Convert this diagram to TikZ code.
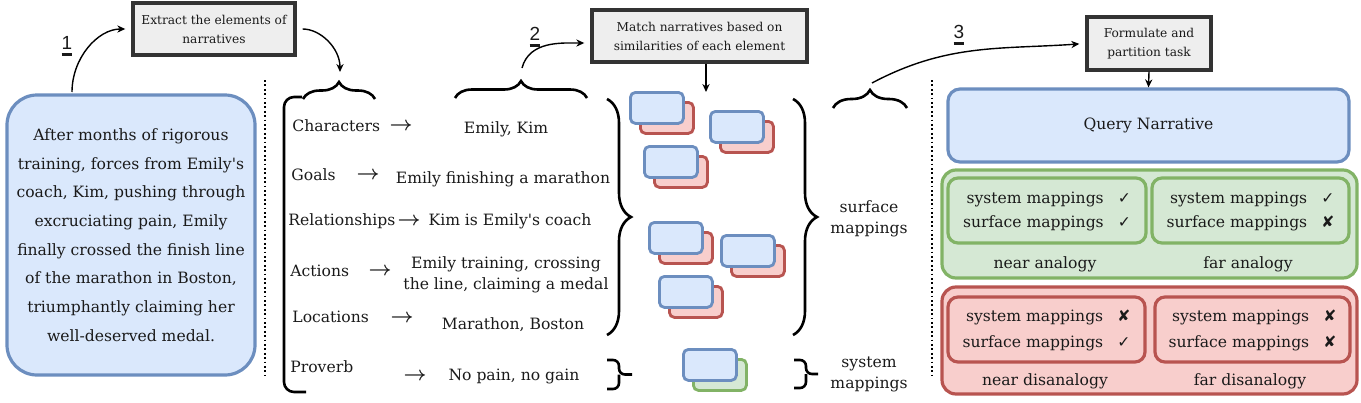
\documentclass[tikz,border=0pt]{standalone}
\usepackage{fontspec}
\setmainfont{DejaVu Serif}[Ligatures=TeXOff]
\setsansfont{Liberation Sans}
\newfontfamily\markfont{DejaVu Sans}
\usetikzlibrary{arrows.meta,decorations.pathreplacing}
\definecolor{ink}{HTML}{1A1A1A}
\definecolor{nblue}{HTML}{DAE8FC}
\definecolor{dblue}{HTML}{6C8EBF}
\definecolor{nred}{HTML}{F8CECC}
\definecolor{dred}{HTML}{B85450}
\definecolor{ngreen}{HTML}{D5E8D4}
\definecolor{dgreen}{HTML}{82B366}
\definecolor{boxgray}{HTML}{EEEEEE}
\definecolor{boxline}{HTML}{333333}
\newcommand\stepnum[1]{\setbox0\hbox{#1}\vtop{\copy0\kern2pt\hrule height1.4pt width\wd0}}
\newcommand\okmark{{\markfont ✓}}
\newcommand\nomark{{\markfont ✘}}
\tikzset{
  task/.style={draw=boxline,line width=1.7pt,fill=boxgray,align=center,inner sep=0pt,font=\fontsize{6.1}{9.5}\selectfont},
  story/.style={draw=dblue,fill=nblue,line width=1.6pt,rounded corners=15pt,align=center,inner sep=0pt,font=\fontsize{7.8}{14.35}\selectfont},
  card/.style={line width=1.4pt,rounded corners=2.5pt,minimum width=26.5pt,minimum height=15.5pt,anchor=north west,inner sep=0pt},
  bcard/.style={card,draw=dblue,fill=nblue},
  rcard/.style={card,draw=dred,fill=nred},
  gcard/.style={card,draw=dgreen,fill=ngreen},
  grp/.style={line width=1.6pt,rounded corners=7pt,inner sep=0pt},
  sub/.style={grp,rounded corners=5pt},
  elem/.style={anchor=west,inner sep=0pt},
  to/.style={font=\fontsize{10}{10}\selectfont\boldmath,inner sep=0pt},
  twoline/.style={align=center,font=\fontsize{7.8}{10.5}\selectfont},
  brc/.style={line width=1.3pt,decorate,decoration={brace,amplitude=#1}},
  brk/.style={line width=1.3pt,rounded corners=#1},
  sep/.style={line width=0.9pt,dash pattern=on 0.9pt off 1.3pt},
  ar/.style={-{Stealth[length=4pt,width=3.6pt]},line width=0.7pt},
  num/.style={font=\sffamily\fontsize{9.5}{9.5}\selectfont},
}
\begin{document}
\begin{tikzpicture}[x=0.5pt,y=-0.5pt,font=\fontsize{7.8}{10}\selectfont,text=ink]
  \useasboundingbox (0,0) rectangle (1361,402);

  % step 1: the narrative
  \node[story,minimum width=124pt,minimum height=140pt] (story) at (131,235)
    {After months of rigorous\\training, forces from Emily's\\coach, Kim, pushing through\\excruciating pain, Emily\\finally crossed the finish line\\of the marathon in Boston,\\triumphantly claiming her\\well-deserved medal.};
  \node[task,minimum width=81pt,minimum height=26pt] (extract) at (214,29) {Extract the elements of\\narratives};
  \node[num] (n1) at (67,46) {\stepnum{1}};
  \coordinate (up1) at (72,92);
  \draw[ar,shorten >=3pt] (up1) to[out=90,in=180] (extract.west);
  \draw[sep] (265,80) -- (265,375);

  % the elements
  \node[elem] (kChar) at (292,126) {Characters};
  \node[elem] (kGoal) at (291,175) {Goals};
  \node[elem] (kRel)  at (288,221) {Relationships};
  \node[elem] (kAct)  at (290,271) {Actions};
  \node[elem] (kLoc)  at (292,317) {Locations};
  \node[elem] (kProv) at (290,367) {Proverb};
  \node[to] (aChar) at (401,127) {$\rightarrow$};
  \node[to] (aGoal) at (368,176) {$\rightarrow$};
  \node[to] (aRel)  at (409,222) {$\rightarrow$};
  \node[to] (aAct)  at (380,272) {$\rightarrow$};
  \node[to] (aLoc)  at (402,319) {$\rightarrow$};
  \node[to] (aProv) at (415,377) {$\rightarrow$};
  \node (vChar) at (506,129) {Emily, Kim};
  \node (vGoal) at (503,179) {Emily finishing a marathon};
  \node (vRel)  at (510,221) {Kim is Emily's coach};
  \node[twoline] (vAct) at (506,275) {Emily training, crossing\\the line, claiming a medal};
  \node (vLoc)  at (513,325) {Marathon, Boston};
  \node (vProv) at (514,376) {No pain, no gain};

  \draw[brk=5pt] (302,97) -- (284,97) -- (284,392) -- (306,392);
  \draw[brc=8.5pt] (303,99) -- (375,99);
  \coordinate (tipA) at (340,72);
  \draw[ar,shorten <=3pt] (extract.east) to[out=0,in=90] (tipA);

  % step 2: matching
  \draw[brc=8.5pt] (455,98) -- (587,98);
  \draw[brc=12pt] (607,99) -- (607,335);
  \draw[brk=3pt] (607,360) -| (619,374.5) -- (632,374.5);
  \draw[brk=3pt] (607,389) -| (619,374.5);
  \node[num] (n2) at (535,37) {\stepnum{2}};
  \node[task,minimum width=107.5pt,minimum height=26pt] (match) at (699.5,36) {Match narratives based on\\similarities of each element};
  \coordinate (tipB) at (522,68);
  \draw[ar,shorten >=3pt] (tipB) to[out=75,in=180] ([yshift=-3.5pt]match.west);
  \coordinate (cards) at (706,92);
  \draw[ar] (match.south -| cards) -- (cards);

  \foreach \x/\y/\c [count=\i] in {629/91/rcard,709/110/rcard,643/145/rcard,648/221/rcard,720/234/rcard,658/275/rcard,682/348/gcard}{
    \node[\c] (back\i) at (\x+10,\y+10) {};
    \node[bcard] (front\i) at (\x,\y) {};
  }

  \draw[brc=12pt] (793,99) -- (793,335);
  \draw[brk=3pt] (794,360) -| (806,374) -- (818,374);
  \draw[brk=3pt] (794,388) -| (806,374);
  \node[twoline] (surf) at (869,219) {surface\\mappings};
  \node[twoline] (syst) at (869,374) {system\\mappings};

  % step 3: the task
  \draw[brc=9pt] (833,108) -- (907,108);
  \node[num] (n3) at (959,35) {\stepnum{3}};
  \node[task,minimum width=62pt,minimum height=26.5pt] (formulate) at (1149,43.5) {Formulate and\\partition task};
  \coordinate (tipC) at (872,83);
  \draw[ar,shorten >=3pt] (tipC) to[out=28,in=184] (formulate.west);
  \draw[sep] (932,80) -- (932,375);

  \node[story,rounded corners=6pt,minimum width=200.5pt,minimum height=36.5pt] (query) at (1148.5,125.5) {Query Narrative};
  \draw[ar] (formulate.south) -- (query.north);

  \node[grp,draw=dgreen,fill=ngreen,minimum width=207.5pt,minimum height=54pt] (analog) at (1149.5,224) {};
  \node[sub,draw=dgreen,fill=ngreen,minimum width=99pt,minimum height=32.5pt] (near) at (1047,210.5)
    {\def\arraystretch{1.2}\begin{tabular}{@{}r@{\hspace{7pt}}c@{}}system mappings&\okmark\\surface mappings&\okmark\end{tabular}};
  \node[sub,draw=dgreen,fill=ngreen,minimum width=98.5pt,minimum height=32.5pt] (far) at (1250.5,210.5)
    {\def\arraystretch{1.2}\begin{tabular}{@{}r@{\hspace{7pt}}c@{}}system mappings&\okmark\\surface mappings&\nomark\end{tabular}};
  \node (nearlab) at (1045,264) {near analogy};
  \node (farlab) at (1248,264) {far analogy};

  \node[grp,draw=dred,fill=nred,minimum width=207.5pt,minimum height=53.5pt] (disanalog) at (1149.5,340.5) {};
  \node[sub,draw=dred,fill=nred,minimum width=98.5pt,minimum height=32.5pt] (neardis) at (1046.5,329.5)
    {\def\arraystretch{1.3}\begin{tabular}{@{}r@{\hspace{7pt}}c@{}}system mappings&\nomark\\surface mappings&\okmark\end{tabular}};
  \node[sub,draw=dred,fill=nred,minimum width=97.5pt,minimum height=32.5pt] (fardis) at (1252.5,329.5)
    {\def\arraystretch{1.3}\begin{tabular}{@{}r@{\hspace{7pt}}c@{}}system mappings&\nomark\\surface mappings&\nomark\end{tabular}};
  \node (neardislab) at (1045,381) {near disanalogy};
  \node (fardislab) at (1250,381) {far disanalogy};
\end{tikzpicture}
\end{document}
